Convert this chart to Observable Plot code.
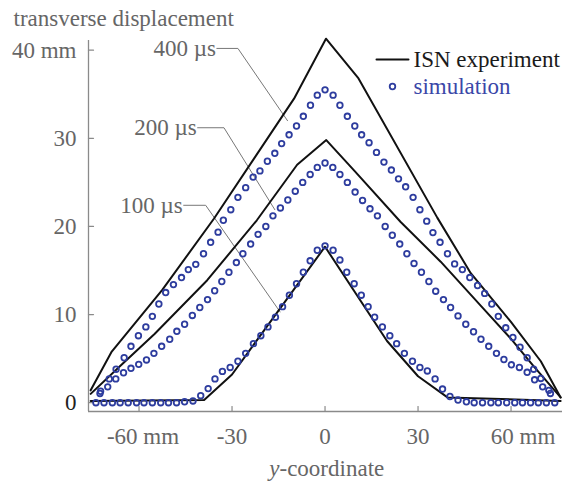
<!DOCTYPE html>
<html>
<head>
<meta charset="utf-8">
<script src="https://cdn.jsdelivr.net/npm/d3@7"></script>
<script src="https://cdn.jsdelivr.net/npm/@observablehq/plot@0.6"></script>
<style>
  html, body { margin: 0; padding: 0; background: #fff; }
</style>
</head>
<body>
<div id="chart"></div>
<script>
// ---- data (mm) ----
const xTicks = [-60, -30, 0, 30, 60];
const yTicks = [0, 10, 20, 30, 40];
const xDomain = [-76.3, 76.6];
const yDomain = [-1, 41.1];

// experiment (ISN) polylines
const exp100X = [-75.6, -39, -30, 0, 20, 30, 39.5, 76];
const exp100Y = [0.2, 0.3, 3.2, 17.7, 7.0, 3.0, 0.6, 0.2];
const exp200X = [-75.6, -66, -55, -38, -22, -9, 0.4, 9.5, 24.4, 37.3, 50.5, 59.6, 67.4, 76];
const exp200Y = [1.0, 4.2, 7.8, 13.9, 20.7, 27.0, 29.8, 26.3, 20.5, 16.0, 10.9, 7.4, 4.1, 0.6];
const exp400X = [-75.6, -68.8, -52.5, -35.8, -10, 0.3, 10.8, 36.2, 47, 59.9, 69.6, 76];
const exp400Y = [1.4, 5.8, 12.8, 20.9, 34.5, 41.3, 36.8, 21.0, 14.7, 9.2, 4.7, 0.6];

// simulation points
const sim100X = [-73.9,-71.3,-68.6,-66.1,-63.5,-60.8,-58.4,-55.7,-53.0,-50.5,-47.9,-45.3,-42.6,-40.1,-37.7,-35.5,-33.1,-30.6,-28.1,-25.6,-23.1,-20.7,-18.4,-16.0,-13.7,-11.5,-9.2,-7.0,-4.8,-2.5,0,2.6,4.8,7.0,9.4,11.7,13.9,16.0,18.5,20.9,23.1,25.6,28.2,30.6,33.0,35.5,37.9,40.3,42.9,45.6,48.1,50.8,53.5,55.9,58.6,61.2,63.7,66.3,68.8,71.4,74.1];
const sim100Y = [0,0,0,0,0,0,0,0,0,0,0,0.1,0.2,0.8,1.6,2.7,3.55,4.0,4.7,5.6,6.7,7.6,8.6,9.7,10.9,12.2,13.5,14.8,16.1,17.3,17.8,17.3,16.2,14.8,13.5,12.2,10.9,9.7,8.6,7.6,6.7,5.6,4.7,4.0,3.6,2.7,1.55,0.7,0.3,0.1,0,0,0,0,0,0,0,0,0,0,0];

const sim200X = [-72.6,-70.1,-67.5,-65.0,-62.6,-60.1,-57.6,-55.2,-52.7,-50.1,-47.8,-45.3,-42.8,-40.4,-37.9,-35.6,-33.3,-31.0,-28.6,-26.5,-24.0,-21.6,-19.1,-16.8,-14.4,-12.0,-9.6,-7.2,-4.8,-2.5,0,2.5,4.8,7.2,9.7,12.1,14.5,16.9,19.4,21.7,24.1,26.4,28.7,31.1,33.5,35.7,38.2,40.5,42.9,45.4,47.9,50.3,52.8,55.3,57.7,60.1,62.7,65.2,67.6,70.2,72.7];
const sim200Y = [1.05,1.8,2.7,3.4,3.9,4.35,4.85,5.6,6.4,7.2,8.1,8.9,9.9,10.8,11.7,12.7,13.75,14.8,15.9,16.9,18.0,19.1,20.0,21.2,22.1,23.0,24.0,25.0,25.9,26.7,27.2,26.7,25.9,25.0,23.9,22.95,22.0,21.2,20.0,19.0,18.0,16.9,15.8,14.8,13.75,12.65,11.7,10.8,9.85,8.9,8.05,7.2,6.4,5.6,4.9,4.3,4.0,3.45,2.6,1.8,1.05];

const sim400X = [-72.4,-69.6,-67.4,-64.8,-62.6,-60.2,-57.8,-55.7,-53.6,-51.4,-48.9,-46.3,-44.1,-41.7,-39.2,-36.9,-34.5,-32.8,-30.4,-28.1,-25.6,-23.2,-21.0,-18.6,-16.2,-14.0,-11.6,-9.2,-7.0,-4.7,-2.5,0,2.6,4.8,7.2,9.6,11.8,14.2,16.6,19.0,21.4,23.7,26.0,28.4,30.6,32.8,34.8,37.1,39.5,41.8,44.3,46.7,49.2,51.5,53.8,55.9,58.3,60.6,62.9,65.2,67.3,69.6,72.2];
const sim400Y = [1.3,2.7,3.8,5.1,6.4,7.6,8.6,9.8,11.2,12.5,13.4,14.2,15.1,15.7,16.9,18.2,19.35,20.7,21.9,23.3,24.4,25.6,26.3,27.4,28.3,29.4,30.4,31.4,32.5,33.75,34.9,35.5,34.9,33.75,32.5,31.4,30.4,29.5,28.4,27.3,26.4,25.4,24.5,23.3,21.9,20.6,19.3,18.2,16.9,15.75,15.1,14.2,13.3,12.4,11.2,9.8,8.5,7.4,6.3,5.1,3.8,2.75,1.4];

// annotations (time labels with leader lines)
const annoLabels = ["400 µs", "200 µs", "100 µs"];
const annoTextX = [-34.9, -41.1, -45.6];
const annoY = [40.2, 31.2, 22.4];
const annoElbowX = [-28.1, -32.6, -38.5];
const annoTipX = [-12.1, -16.2, -14.5];
const annoTipY = [32.0, 21.9, 10.3];

const legendLabels = ["ISN experiment", "simulation"];
const titleText = "transverse displacement";

// ---- build tables ----
const zip = (X, Y, s) => X.map((x, i) => ({x, y: Y[i], s}));
const expData = [...zip(exp100X, exp100Y, "100"), ...zip(exp200X, exp200Y, "200"), ...zip(exp400X, exp400Y, "400")];
const simData = [...zip(sim100X, sim100Y, "100"), ...zip(sim200X, sim200Y, "200"), ...zip(sim400X, sim400Y, "400")];
const leaders = annoLabels.flatMap((l, i) => [
  {x: annoTextX[i], y: annoY[i], l},
  {x: annoElbowX[i], y: annoY[i], l},
  {x: annoTipX[i], y: annoTipY[i], l}
]);
const annoText = annoLabels.map((l, i) => ({x: annoTextX[i], y: annoY[i], l}));

const FS = 23;
const GREY = "#666";
const AXIS = "#8a8a8a";
const BLUE = "#2d3c9e";
const lineShape = {draw(ctx, l) { ctx.moveTo(0, 0); ctx.lineTo(0, -l); }};
const fmtX = d => d === -60 ? "-60 mm" : d === 60 ? "60 mm" : (d < 0 ? "-" + (-d) : String(d));
const fmtY = d => d === 40 ? "40 mm" : String(d);

const plot = Plot.plot({
  width: 563,
  height: 482,
  marginLeft: 88,
  marginRight: 1,
  marginTop: 40,
  marginBottom: 71,
  x: {domain: xDomain},
  y: {domain: yDomain},
  style: {
    fontFamily: "'Liberation Serif', 'Times New Roman', serif",
    fontSize: FS + "px",
    background: "white",
    overflow: "visible"
  },
  marks: [
    // axis lines
    Plot.ruleX([xDomain[0]], {stroke: AXIS, strokeWidth: 1.3}),
    Plot.ruleY([yDomain[0]], {stroke: AXIS, strokeWidth: 1.3}),
    // inward ticks
    Plot.vector(xTicks, {x: d => d, frameAnchor: "bottom", rotate: 0, length: 5, anchor: "start", shape: lineShape, stroke: AXIS, strokeWidth: 1.2}),
    Plot.vector(yTicks, {y: d => d, frameAnchor: "left", rotate: 90, length: 5, anchor: "start", shape: lineShape, stroke: AXIS, strokeWidth: 1.2}),
    // tick labels
    Plot.axisX(xTicks.filter(d => Math.abs(d) !== 60), {tickSize: 0, tickPadding: 16, tickFormat: fmtX, fill: GREY, fontSize: FS, label: null}),
    Plot.axisX(xTicks.filter(d => d === -60), {tickSize: 0, tickPadding: 16, tickFormat: fmtX, fill: GREY, fontSize: FS, label: null, dx: 4}),
    Plot.axisX(xTicks.filter(d => d === 60), {tickSize: 0, tickPadding: 16, tickFormat: fmtX, fill: GREY, fontSize: FS, label: null, dx: 12}),
    Plot.axisY(yTicks.filter(d => d !== 0), {tickSize: 0, tickPadding: 12, tickFormat: fmtY, fill: GREY, fontSize: FS, label: null}),
    Plot.axisY(yTicks.filter(d => d === 0), {tickSize: 0, tickPadding: 12, tickFormat: fmtY, fill: "#222", fontSize: FS, label: null}),
    // axis titles
    Plot.text([titleText], {text: d => d, frameAnchor: "top-left", dx: -75, dy: -22, textAnchor: "start", lineAnchor: "middle", fontSize: FS, fill: GREY}),
    Plot.text(["y"], {text: d => d, frameAnchor: "bottom", dx: -46, dy: 57, textAnchor: "end", lineAnchor: "middle", fontStyle: "italic", fontSize: FS, fill: GREY}),
    Plot.text(["-coordinate"], {text: d => d, frameAnchor: "bottom", dx: -46, dy: 57, textAnchor: "start", lineAnchor: "middle", fontSize: FS, fill: GREY}),
    // annotation leaders and labels
    Plot.line(leaders, {x: "x", y: "y", z: "l", stroke: "#777", strokeWidth: 1}),
    Plot.text(annoText, {x: "x", y: "y", text: "l", textAnchor: "end", lineAnchor: "middle", dx: -1, fontSize: FS, fill: GREY}),
    // data
    Plot.line(expData, {x: "x", y: "y", z: "s", stroke: "#111", strokeWidth: 2}),
    Plot.dot(simData, {x: "x", y: "y", r: 2.8, stroke: BLUE, strokeWidth: 1.8, fill: "none"}),
    // legend
    Plot.vector([0], {frameAnchor: "top-left", dx: 288, dy: 19, rotate: 90, length: 32, anchor: "start", shape: lineShape, stroke: "#111", strokeWidth: 2}),
    Plot.text([legendLabels[0]], {text: d => d, frameAnchor: "top-left", dx: 325, dy: 19, textAnchor: "start", lineAnchor: "middle", fontSize: FS, fill: "#1a1a1a"}),
    Plot.dot([0], {frameAnchor: "top-left", dx: 304, dy: 46, r: 2.8, stroke: BLUE, strokeWidth: 1.8, fill: "none"}),
    Plot.text([legendLabels[1]], {text: d => d, frameAnchor: "top-left", dx: 325, dy: 46, textAnchor: "start", lineAnchor: "middle", fontSize: FS, fill: "#3a47a8"})
  ]
});
document.getElementById("chart").appendChild(plot);
</script>
</body>
</html>
